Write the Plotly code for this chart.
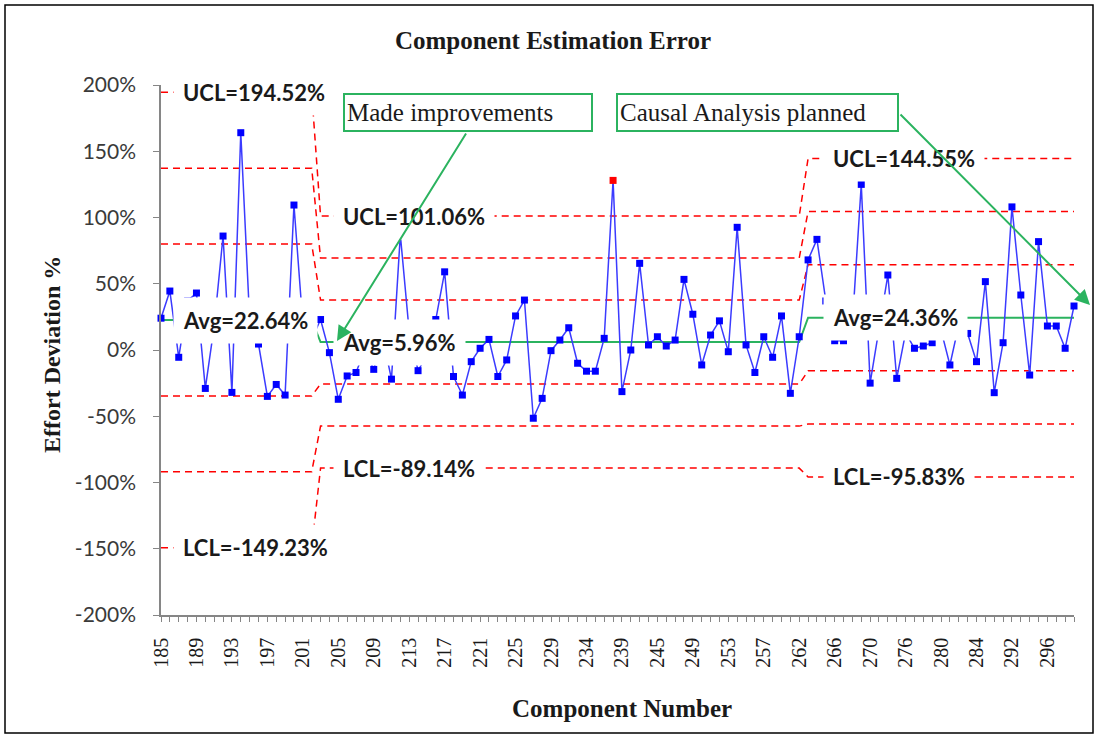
import plotly.graph_objects as go

# component numbers on the category axis (one entry per point)
components = [185, 186, 187, 188, 189, 190, 191, 192, 193, 194, 195, 196, 197, 198, 199,
              200, 201, 202, 203, 204, 205, 206, 207, 208, 209, 210, 211, 212, 213, 214,
              215, 216, 217, 218, 219, 220, 221, 222, 223, 224, 225, 226, 227, 228, 229,
              230, 231, 232, 234, 235, 236, 237, 239, 240, 241, 242, 245, 246, 247, 248,
              249, 250, 251, 252, 253, 254, 255, 256, 257, 258, 259, 260, 262, 263, 264,
              265, 266, 267, 268, 269, 270, 271, 272, 273, 276, 277, 278, 279, 280, 281,
              282, 283, 284, 285, 286, 287, 292, 293, 294, 295, 296, 297, 298, 299]

# effort deviation (%) per component
effort_dev = [24, 44.5, -5.5, 37, 43, -29, 18, 86, -32, 164, 23, 4.5, -35, -26, -34,
              109.4, 20, 8, 23, -2, -37.2, -19.6, -17, 0, -14.6, 10, -22, 87, 14, -15.6,
              -4, 23, 59, -20, -34, -8.8, 1.3, 8, -20, -7.5, 25.7, 37.7, -51.5, -36.5, -0.5,
              7.5, 16.8, -10, -16, -16, 8.8, 128, -31.4, 0, 65.4, 3.8, 10, 3, 7.5, 53.3,
              27, -11.3, 11.3, 22, -1.3, 92.6, 3.8, -17, 10, -5.5, 25.7, -32.7, 10, 68, 83.5,
              37, 7, 7, 20, 125, -25, 15, 56.6, -21.4, 13, 1.3, 3, 5.5, 15, -11.3,
              19, 12.5, -8.8, 51.6, -32.2, 5.5, 108, 41.5, -18.9, 81.8, 18.1, 18.1, 1.3, 33.2]

# three process periods and their control limits (%)
section_len = [18, 55, 31]
ucl = [194.52, 101.06, 144.55]
plus2 = [137.22, 69.36, 104.49]
plus1 = [79.93, 37.66, 64.42]
avg = [22.64, 5.96, 24.36]
minus1 = [-34.65, -25.74, -15.70]
minus2 = [-91.94, -57.44, -55.77]
lcl = [-149.23, -89.14, -95.83]

y_ticks = [-200, -150, -100, -50, 0, 50, 100, 150, 200]
y_tick_text = ['-200%', '-150%', '-100%', '-50%', '0%', '50%', '100%', '150%', '200%']

cats = [str(c) for c in components]
GREEN = '#2bb35f'
RED = '#ff0000'


def stretch(vals):
    out = []
    for v, n in zip(vals, section_len):
        out += [v] * n
    return out


starts = [0, section_len[0], section_len[0] + section_len[1]]
sec_of = []
for i, n in enumerate(section_len):
    sec_of += [i] * n
marker_cols = ['#ff0000' if v > ucl[sec_of[k]] else '#0000ff' for k, v in enumerate(effort_dev)]

fig = go.Figure()

for series in [ucl, plus2, plus1, minus1, minus2, lcl]:
    fig.add_trace(go.Scatter(x=cats, y=stretch(series), mode='lines',
                             line=dict(color=RED, width=1.5, dash='7px,5px'),
                             hoverinfo='skip', cliponaxis=False))

fig.add_trace(go.Scatter(x=cats, y=stretch(avg), mode='lines',
                         line=dict(color=GREEN, width=2), hoverinfo='skip', cliponaxis=False))

fig.add_trace(go.Scatter(x=cats, y=effort_dev, mode='lines+markers',
                         line=dict(color='#3b3bff', width=1.5),
                         marker=dict(symbol='square', size=7, color=marker_cols),
                         cliponaxis=False))

# data labels with white boxes (x given as category index)
shifts = [12, 12, 15]
for i, s in enumerate(starts):
    for name, vals in [('UCL', ucl), ('Avg', avg), ('LCL', lcl)]:
        fig.add_annotation(x=s, y=vals[i], xref='x', yref='y', xanchor='left',
                           yanchor='middle', xshift=shifts[i], showarrow=False,
                           text='<b>%s=%.2f%%</b>' % (name, vals[i]),
                           font=dict(family='Lato', size=22, color='#1a1a1a'),
                           bgcolor='white', borderpad=9)

# callouts
PW, PH = 913.0, 530.0
def px(xp, yp):
    return (xp - 161) / PW, (615 - yp) / PH

for txt, cx, w in [('Made improvements', 468, 242), ('Causal Analysis planned', 757.5, 275)]:
    xx, yy = px(cx, 112.5)
    fig.add_annotation(x=xx, y=yy, xref='paper', yref='paper', showarrow=False,
                       xanchor='center', yanchor='middle',
                       text=txt, align='left', width=w, height=31,
                       font=dict(family='Liberation Serif', size=25, color='#1a1a1a'),
                       bgcolor='white', bordercolor=GREEN, borderwidth=2, borderpad=2)

for tip, tail in [((337, 341), (467, 132)), ((1090, 305), (899, 113))]:
    xx, yy = px(*tip)
    fig.add_annotation(x=xx, y=yy, xref='paper', yref='paper', text='', showarrow=True,
                       ax=tail[0] - tip[0], ay=tail[1] - tip[1],
                       arrowhead=2, arrowsize=1.5, arrowwidth=2, arrowcolor=GREEN)

# axis titles
xx, yy = px(621.5, 708)
fig.add_annotation(x=xx, y=yy, xref='paper', yref='paper', showarrow=False,
                   xanchor='center', yanchor='middle',
                   text='<b>Component Number</b>',
                   font=dict(family='Liberation Serif', size=25, color='#1a1a1a'))
xx, yy = px(52, 355)
fig.add_annotation(x=xx, y=yy, xref='paper', yref='paper', showarrow=False, textangle=-90,
                   xanchor='center', yanchor='middle',
                   text='<b>Effort Deviation %</b>',
                   font=dict(family='Liberation Serif', size=24, color='#1a1a1a'))

# chart border
x0, y1 = px(5, 5)
x1, y0 = px(1093, 733)
fig.add_shape(type='rect', xref='paper', yref='paper', x0=x0, x1=x1, y0=y0, y1=y1,
              line=dict(color='black', width=1.5))

tick_text = [c if i % 4 == 0 else '' for i, c in enumerate(cats)]

fig.update_layout(
    width=1096, height=736,
    paper_bgcolor='white', plot_bgcolor='white',
    margin=dict(l=161, r=22, t=85, b=121),
    showlegend=False,
    title=dict(text='<b>Component Estimation Error</b>', x=553 / 1096, xref='container',
               xanchor='center', y=1 - 40 / 736, yanchor='middle',
               font=dict(family='Liberation Serif', size=25, color='#1a1a1a')),
    xaxis=dict(type='category', range=[0, len(cats) - 1], tickmode='array',
               tickvals=cats, ticktext=tick_text, tickangle=-90,
               showline=True, linecolor='#868686', linewidth=1.5,
               ticks='outside', ticklen=5, tickcolor='#868686',
               showgrid=False, zeroline=False, ticklabelstandoff=8,
               tickfont=dict(family='Liberation Serif', size=20, color='#1a1a1a')),
    yaxis=dict(range=[-200, 200], tickmode='array', tickvals=y_ticks, ticktext=y_tick_text,
               showline=True, linecolor='#868686', linewidth=1.5,
               ticks='outside', ticklen=6, tickcolor='#868686',
               showgrid=False, zeroline=False, ticklabelstandoff=13,
               tickfont=dict(family='Lato', size=21, color='#3a3a3a')),
)

fig.write_html('out.html', config={'displayModeBar': False},
               post_script="document.body.style.margin='0';")
